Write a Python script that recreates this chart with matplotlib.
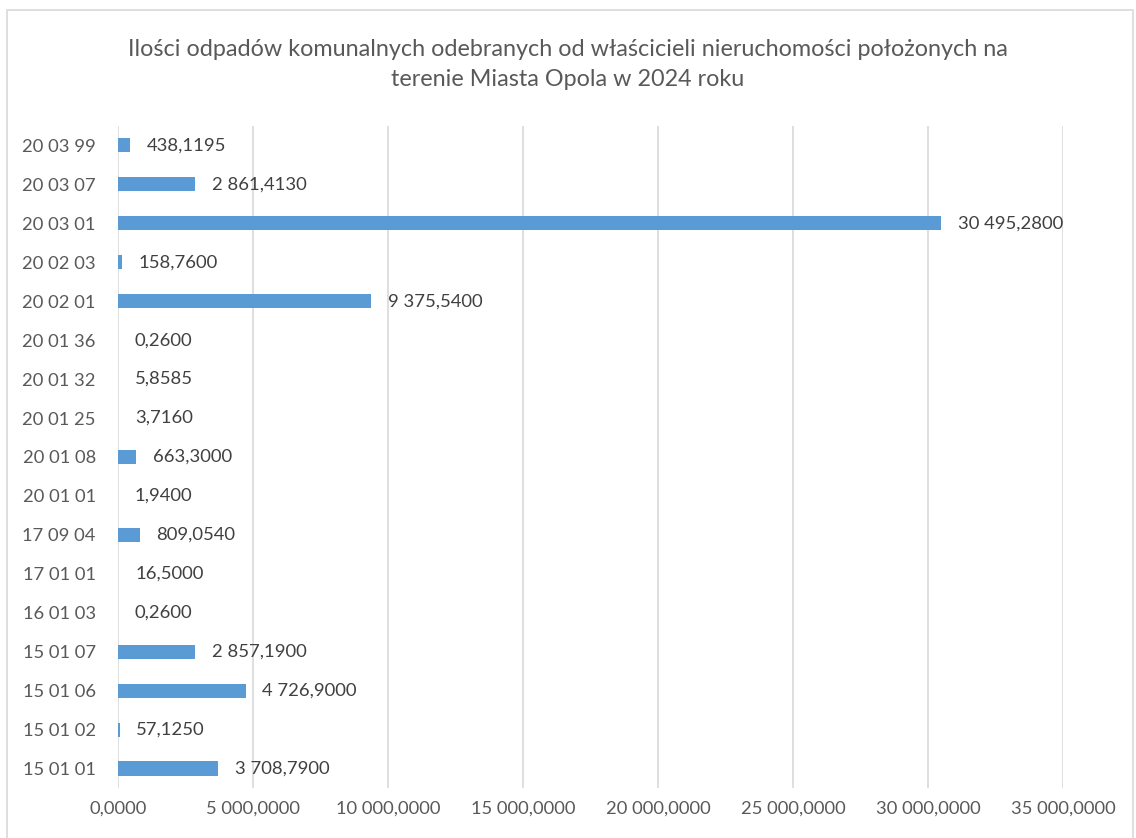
import matplotlib
matplotlib.use("Agg")
import matplotlib.pyplot as plt
from matplotlib.patches import Rectangle
from matplotlib.ticker import FuncFormatter

# dane (etykiety słupków w tonach, oś w jednostkach x1000)
kody = ['15 01 01', '15 01 02', '15 01 06', '15 01 07', '16 01 03', '17 01 01',
        '17 09 04', '20 01 01', '20 01 08', '20 01 25', '20 01 32', '20 01 36',
        '20 02 01', '20 02 03', '20 03 01', '20 03 07', '20 03 99']
ilosci = [3708.79, 57.125, 4726.9, 2857.19, 0.26, 16.5,
          809.054, 1.94, 663.3, 3.716, 5.8585, 0.26,
          9375.54, 158.76, 30495.28, 2861.413, 438.1195]
skala = 1000

tytul = ("Ilości odpadów komunalnych odebranych od właścicieli nieruchomości położonych na\n"
         "terenie Miasta Opola w 2024 roku")

szary = '#595959'
plt.rcParams['font.family'] = ['Lato', 'DejaVu Sans']


def fmt_pl(v, dec=4):
    s = f"{v:,.{dec}f}"
    return s.replace(',', ' ').replace('.', ',')


fig = plt.figure(figsize=(11.36, 8.38), dpi=100)
fig.patches.append(Rectangle((0.006, -0.01), 0.991, 0.998, transform=fig.transFigure,
                             fill=False, edgecolor='#D9D9D9', linewidth=1.2))
ax = fig.add_axes([0.1039, 0.0597, 0.8318, 0.79])

poz = range(len(kody))
wart = [v * skala for v in ilosci]
ax.barh(poz, wart, height=0.36, color='#5B9BD5', zorder=3)
for p, v, w in zip(poz, ilosci, wart):
    ax.annotate(fmt_pl(v), (w, p), xytext=(12, 0), textcoords='offset points',
                va='center', ha='left', fontsize=13.3, color='#404040')

ax.set_xlim(0, 35_000_000)
ax.set_ylim(-0.5, len(kody) - 0.5)
ax.set_xticks(range(0, 35_000_001, 5_000_000))
ax.xaxis.set_major_formatter(FuncFormatter(lambda x, _: fmt_pl(x / skala)))
ax.set_yticks(list(poz))
ax.set_yticklabels(kody)
ax.grid(axis='x', color='#D9D9D9', linewidth=1.2, zorder=0)
for s in ax.spines.values():
    s.set_visible(False)
ax.tick_params(axis='both', length=0, labelsize=13.2, colors=szary)
ax.tick_params(axis='y', pad=16)
ax.tick_params(axis='x', pad=9)

fig.text(0.5, 0.923, tytul, ha='center', va='center', fontsize=16.8, color=szary,
         linespacing=1.55)

fig.savefig('out.png', dpi=100)
